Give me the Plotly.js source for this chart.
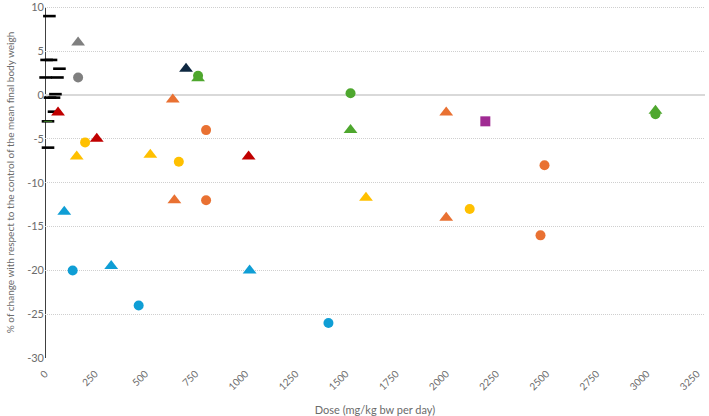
<!DOCTYPE html>
<html>
<head>
<meta charset="utf-8">
<script src="https://cdn.plot.ly/plotly-3.0.1.min.js"></script>
<style>html,body{margin:0;padding:0;background:#fff;}#chart{width:709px;height:416px;}</style>
</head>
<body>
<div id="chart"></div>
<script>
// Low-dose dash marks (black)
var dashX = [22, 8, 30, 72, 3, 62, 52, 25, 45, 45, 15, 15];
var dashY = [9, 4, 4, 3, 2, 2, 0.1, -0.3, -0.3, -1.9, -3, -6];
var greenDashX = [15];
var greenDashY = [-3];

var grayTriX = [165];   var grayTriY = [6];
var grayCirX = [165];   var grayCirY = [2];

var redTriX = [65, 258, 1015];       var redTriY = [-2, -5, -7];

var yelTriX = [158, 525, 1600];      var yelTriY = [-7, -6.8, -11.7];
var yelCirX = [200, 667, 2117];      var yelCirY = [-5.4, -7.6, -13];

var bluTriX = [96, 330, 1020];       var bluTriY = [-13.3, -19.5, -20];
var bluCirX = [138, 467, 1413];      var bluCirY = [-20, -24, -26];

var ornTriX = [637, 645, 2000, 2000]; var ornTriY = [-0.5, -12, -2, -14];
var ornCirX = [803, 803, 2490, 2470]; var ornCirY = [-4, -12, -8, -16];

var grnTriX = [763, 1523, 3043];     var grnTriY = [1.9, -4, -1.8];
var grnCirX = [763, 1523, 3043];     var grnCirY = [2.2, 0.2, -2.2];

var navyTriX = [703];   var navyTriY = [3];
var purSqX = [2195];    var purSqY = [-3];

var xTicks = [0,250,500,750,1000,1250,1500,1750,2000,2250,2500,2750,3000,3250];
var yTicks = [10,5,0,-5,-10,-15,-20,-25,-30];

function dash(x, y, color, size, width) {
  return {x:x, y:y, type:'scatter', mode:'markers', cliponaxis:false, hoverinfo:'none',
    marker:{symbol:'line-ew', size:size, color:color, line:{color:color, width:width}}};
}
function pts(x, y, symbol, color, size) {
  return {x:x, y:y, type:'scatter', mode:'markers', cliponaxis:false,
    marker:{symbol:symbol, size:size, color:color, line:{width:0}}};
}

var data = [
  dash(dashX, dashY, '#000000', 9, 2.6),
  dash(greenDashX, greenDashY, '#4EA72E', 6, 0.8),
  pts(grayTriX, grayTriY, 'triangle-up', '#7F7F7F', 12),
  pts(grayCirX, grayCirY, 'circle', '#7F7F7F', 10),
  pts(redTriX, redTriY, 'triangle-up', '#C00000', 12),
  pts(yelTriX, yelTriY, 'triangle-up', '#FFC000', 12),
  pts(yelCirX, yelCirY, 'circle', '#FFC000', 10),
  pts(bluTriX, bluTriY, 'triangle-up', '#0F9ED5', 12),
  pts(bluCirX, bluCirY, 'circle', '#0F9ED5', 10),
  pts(ornTriX, ornTriY, 'triangle-up', '#E97132', 12),
  pts(ornCirX, ornCirY, 'circle', '#E97132', 10),
  pts(grnTriX, grnTriY, 'triangle-up', '#4EA72E', 12),
  pts(grnCirX, grnCirY, 'circle', '#4EA72E', 10),
  pts(navyTriX, navyTriY, 'triangle-up', '#0E2841', 12),
  pts(purSqX, purSqY, 'square', '#A02B93', 10)
];

var layout = {
  width: 709, height: 416,
  margin: {l: 45, r: 4, t: 6, b: 57},
  paper_bgcolor: '#ffffff', plot_bgcolor: '#ffffff',
  showlegend: false,
  font: {family: 'Lato, "Open Sans", sans-serif', color: '#6B6B6B', size: 11},
  xaxis: {
    range: [0, 3290], tickvals: xTicks, ticktext: xTicks.map(String),
    tickangle: -45, showgrid: false, zeroline: false, showline: false,
    ticks: 'outside', ticklen: 4, tickcolor: 'rgba(0,0,0,0)', tickfont: {size: 10, color: '#6B6B6B'},
    title: {text: 'Dose (mg/kg bw per day)', font: {size: 11, color: '#6B6B6B'}, standoff: 16}
  },
  yaxis: {
    range: [-30.1, 10.15], tickvals: yTicks, ticktext: yTicks.map(String),
    ticklabeloverflow: 'allow',
    showgrid: true, gridcolor: '#CFCFCF', griddash: '1px,1px', gridwidth: 1,
    zeroline: true, zerolinecolor: '#D9D9D9', zerolinewidth: 1.5,
    showline: false, ticks: '', tickfont: {size: 11, color: '#6B6B6B'},
    title: {text: '% of change with respect to the control of the mean final body weigh', font: {size: 10, color: '#6B6B6B'}, standoff: 10}
  },
  shapes: [
    {type: 'line', xref: 'x', yref: 'y', x0: 0, x1: 0, y0: -30, y1: 10, line: {color: '#000000', width: 1.5}, layer: 'below'}
  ]
};

Plotly.newPlot('chart', data, layout, {displayModeBar: false, staticPlot: true});
</script>
</body>
</html>
